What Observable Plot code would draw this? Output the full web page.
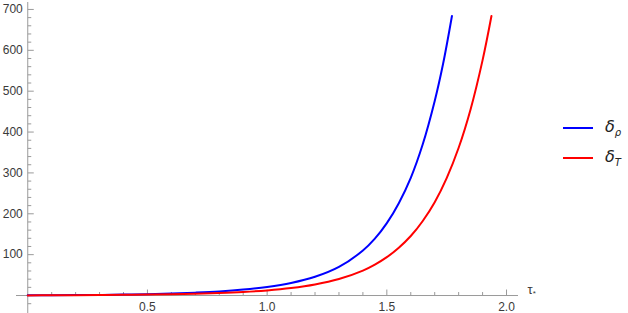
<!DOCTYPE html>
<html><head><meta charset="utf-8">
<script src="https://cdn.jsdelivr.net/npm/d3@7"></script>
<script src="https://cdn.jsdelivr.net/npm/@observablehq/plot@0.6"></script>
<style>
body{margin:0;background:#fff;}
#wrap{position:relative;width:628px;height:313px;font-family:"Liberation Sans",Arial,sans-serif;}
#legend{position:absolute;left:563px;top:113px;}
.row{display:flex;align-items:center;height:30px;}
.sw{width:30px;height:2px;margin-right:12px;}
.lab{font-style:italic;font-size:16px;color:#222;font-family:"DejaVu Sans","Liberation Sans",sans-serif;}
.lab sub{font-size:10px;}
</style></head><body><div id="wrap"><div id="legend"></div></div>
<script>
// series: delta_rho
const tauRho   = [0, 0.1, 0.2, 0.3, 0.4, 0.5, 0.6, 0.7, 0.8, 0.9, 1.0, 1.1, 1.2, 1.3, 1.4, 1.45, 1.5, 1.55, 1.6, 1.65, 1.7, 1.735, 1.772];
const deltaRho = [0.5, 0.7, 1.0, 1.5, 2.2, 3.2, 4.7, 7.0, 10, 14.5, 21, 30.7, 45.8, 70, 110, 139, 177, 226, 288, 370, 476, 567, 684];
// series: delta_T
const tauT     = [0, 0.1, 0.2, 0.3, 0.4, 0.5, 0.6, 0.7, 0.8, 0.9, 1.0, 1.1, 1.2, 1.3, 1.4, 1.45, 1.5, 1.55, 1.6, 1.65, 1.7, 1.75, 1.8, 1.85, 1.9, 1.937];
const deltaT   = [0.3, 0.45, 0.7, 1.0, 1.6, 2.5, 3.3, 4.5, 6.2, 8.7, 12.5, 18.3, 27, 40.3, 61, 75.6, 93.8, 117, 145.6, 182.4, 228.4, 287.4, 361.6, 456, 576, 684];

const seriesNames  = ["δρ", "δT"];
const seriesColors = ["#0000ff", "#ff0000"];

const xMajor = [0.5, 1.0, 1.5, 2.0];
const xLabels = ["0.5", "1.0", "1.5", "2.0"];
const yMajor = [100, 200, 300, 400, 500, 600, 700];
const yLabels = ["100", "200", "300", "400", "500", "600", "700"];
const xMinor = d3.range(1, 20).map(i => i / 10).filter(v => Math.abs(v * 2 - Math.round(v * 2)) > 1e-9);
const yMinor = d3.range(-1, 35).map(i => i * 20).filter(v => v % 100 !== 0);
const xAxisLabel = "τ*";

const rhoData = tauRho.map((t, i) => ({t, v: deltaRho[i]}));
const tData = tauT.map((t, i) => ({t, v: deltaT[i]}));

const tickUp = {draw(ctx, size) { const r = Math.sqrt(size / Math.PI); ctx.moveTo(0, 0); ctx.lineTo(0, -r); }};
const tickRight = {draw(ctx, size) { const r = Math.sqrt(size / Math.PI); ctx.moveTo(0, 0); ctx.lineTo(r, 0); }};

const axisColor = "#9a9a9a";
const labelColor = "#3a3a3a";

const chart = Plot.plot({
  width: 628,
  height: 313,
  marginLeft: 16,
  marginRight: 110,
  marginTop: 2,
  marginBottom: 0,
  style: {fontFamily: "'Liberation Sans', Arial, sans-serif", fontSize: "12px", background: "#fff"},
  x: {domain: [-0.047, 2.05], axis: null},
  y: {domain: [-44, 717], axis: null},
  marks: [
    Plot.ruleY([0], {stroke: axisColor, strokeWidth: 1}),
    Plot.ruleX([0], {stroke: axisColor, strokeWidth: 1}),
    Plot.dot(xMajor, {x: d => d, y: 0, symbol: tickUp, r: 6, stroke: axisColor, fill: "none", strokeWidth: 1}),
    Plot.dot(xMinor, {x: d => d, y: 0, symbol: tickUp, r: 3.5, stroke: axisColor, fill: "none", strokeWidth: 1}),
    Plot.dot(yMajor, {x: 0, y: d => d, symbol: tickRight, r: 6, stroke: axisColor, fill: "none", strokeWidth: 1}),
    Plot.dot(yMinor, {x: 0, y: d => d, symbol: tickRight, r: 3.5, stroke: axisColor, fill: "none", strokeWidth: 1}),
    Plot.text(xMajor, {x: d => d, y: 0, text: (d, i) => xLabels[i], dy: 12, fill: labelColor, fontSize: 12}),
    Plot.text(yMajor, {x: 0, y: d => d, text: (d, i) => yLabels[i], dx: -5, textAnchor: "end", fill: labelColor, fontSize: 12}),
    Plot.text([xAxisLabel], {frameAnchor: "right", y: 0, text: d => d, dx: 9, dy: -6, textAnchor: "start", fill: labelColor, fontSize: 13}),
    Plot.line(rhoData, {x: "t", y: "v", stroke: seriesColors[0], strokeWidth: 2, curve: "catmull-rom"}),
    Plot.line(tData, {x: "t", y: "v", stroke: seriesColors[1], strokeWidth: 2, curve: "catmull-rom"})
  ]
});

// subscript for the axis label
d3.select(chart).selectAll("text").each(function() {
  if (this.textContent === xAxisLabel) {
    const el = d3.select(this);
    el.text("");
    el.append("tspan").text("τ");
    el.append("tspan").attr("dy", "0.3em").attr("font-size", "8px").text("*");
  }
});

const wrap = document.getElementById("wrap");
wrap.insertBefore(chart, wrap.firstChild);

const legend = d3.select("#legend");
seriesNames.forEach((name, i) => {
  const row = legend.append("div").attr("class", "row");
  row.append("div").attr("class", "sw").style("background", seriesColors[i]);
  row.append("div").attr("class", "lab").html(name[0] + "<sub>" + name.slice(1) + "</sub>");
});
</script>
</body></html>
